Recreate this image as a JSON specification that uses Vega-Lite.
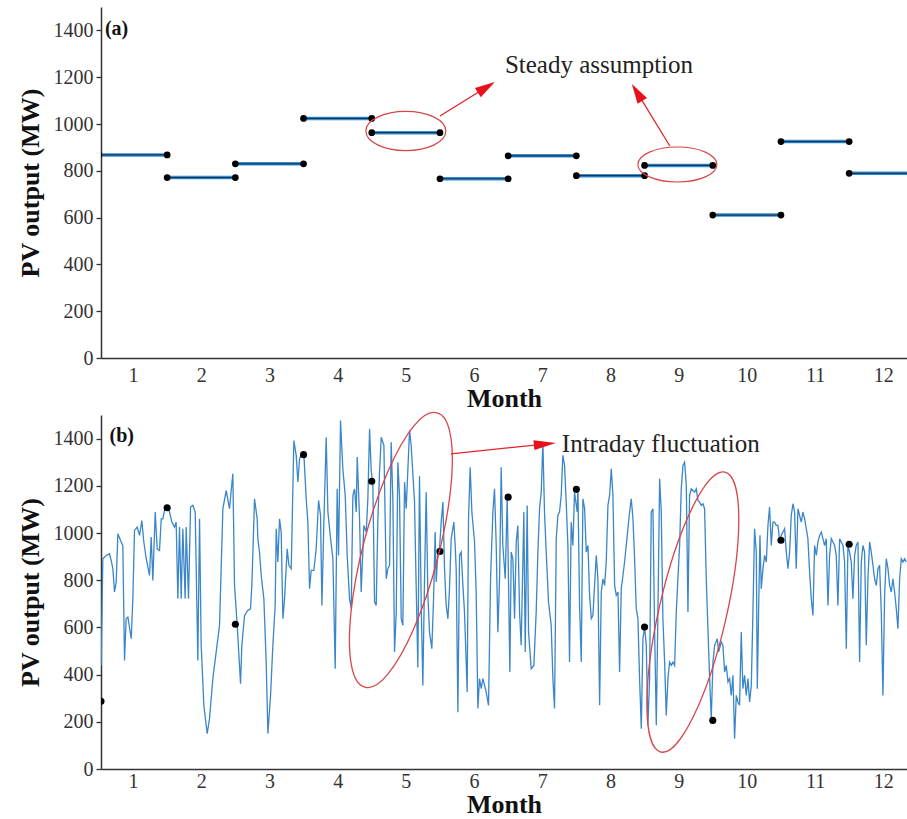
{
 "$schema": "https://vega.github.io/schema/vega-lite/v6.json",
 "padding": {"left": 17, "top": 7, "right": 0, "bottom": 0},
 "spacing": -2,
 "config": {
  "font": "Liberation Serif",
  "view": {"stroke": null},
  "axis": {"grid": false, "labelFont": "Liberation Serif", "titleFont": "Liberation Serif", "labelFontSize": 20, "labelColor": "#333", "domainColor": "#333", "domainWidth": 1.5, "tickColor": "#333", "tickWidth": 1.3, "titleFontSize": 26, "titleFontWeight": "bold", "titleColor": "#111"}
 },
 "vconcat": [
  {
   "width": 806, "height": 351,
   "encoding": {
    "x": {"field": "x", "type": "quantitative", "scale": {"domain": [0.53, 12.348], "nice": false, "zero": false}, "axis": {"values": [1,2,3,4,5,6,7,8,9,10,11,12], "ticks": false, "labelPadding": 7, "title": "Month", "titlePadding": 0, "labelFlush": false}},
    "y": {"field": "y", "type": "quantitative", "scale": {"domain": [0, 1500], "nice": false}, "axis": {"values": [0,200,400,600,800,1000,1200,1400], "format": "d", "tickSize": 5, "labelPadding": 3, "title": "PV output (MW)", "titlePadding": 10}}
   },
   "layer": [
    {"data": {"values": [{"x":0.5,"x2":1.5,"y":868},{"x":1.5,"x2":2.5,"y":771},{"x":2.5,"x2":3.5,"y":830},{"x":3.5,"x2":4.5,"y":1024},{"x":4.5,"x2":5.5,"y":963},{"x":5.5,"x2":6.5,"y":766},{"x":6.5,"x2":7.5,"y":864},{"x":7.5,"x2":8.5,"y":779},{"x":8.5,"x2":9.5,"y":823},{"x":9.5,"x2":10.5,"y":611},{"x":10.5,"x2":11.5,"y":925},{"x":11.5,"x2":12.5,"y":789}]},
     "mark": {"type": "rule", "color": "#2f8fd8", "strokeWidth": 3.5, "clip": true},
     "encoding": {"x2": {"field": "x2"}}},
    {"data": {"values": [{"x":0.5,"x2":1.5,"y":868},{"x":1.5,"x2":2.5,"y":771},{"x":2.5,"x2":3.5,"y":830},{"x":3.5,"x2":4.5,"y":1024},{"x":4.5,"x2":5.5,"y":963},{"x":5.5,"x2":6.5,"y":766},{"x":6.5,"x2":7.5,"y":864},{"x":7.5,"x2":8.5,"y":779},{"x":8.5,"x2":9.5,"y":823},{"x":9.5,"x2":10.5,"y":611},{"x":10.5,"x2":11.5,"y":925},{"x":11.5,"x2":12.5,"y":789}]},
     "mark": {"type": "rule", "color": "#1c3550", "strokeWidth": 1.2, "clip": true},
     "encoding": {"x2": {"field": "x2"}}},
    {"data": {"values": [{"x":0.5,"y":868},{"x":1.5,"y":868},{"x":1.5,"y":771},{"x":2.5,"y":771},{"x":2.5,"y":830},{"x":3.5,"y":830},{"x":3.5,"y":1024},{"x":4.5,"y":1024},{"x":4.5,"y":963},{"x":5.5,"y":963},{"x":5.5,"y":766},{"x":6.5,"y":766},{"x":6.5,"y":864},{"x":7.5,"y":864},{"x":7.5,"y":779},{"x":8.5,"y":779},{"x":8.5,"y":823},{"x":9.5,"y":823},{"x":9.5,"y":611},{"x":10.5,"y":611},{"x":10.5,"y":925},{"x":11.5,"y":925},{"x":11.5,"y":789},{"x":12.5,"y":789}]},
     "mark": {"type": "point", "filled": true, "color": "#000", "size": 45, "opacity": 1, "clip": true}},
    {"data": {"values": [{"x":1.5},{"x":2.5},{"x":3.5},{"x":4.5},{"x":5.5},{"x":6.5},{"x":7.5},{"x":8.5},{"x":9.5},{"x":10.5},{"x":11.5}]},
     "mark": {"type": "rule", "color": "#333", "strokeWidth": 1.3},
     "encoding": {"y": {"datum": 0}, "y2": {"datum": 22}}},
    {"data": {"values": [{}]},
     "mark": {"type": "rule", "color": "#555", "strokeWidth": 1.5},
     "encoding": {"x": {"datum": 0.53}, "x2": {"datum": 12.348}, "y": {"datum": 1500}}},
    {"data": {"values": [{"x":5.0,"y":970}]},
     "mark": {"type": "point", "shape": "M-1,0A1,0.49,0,1,1,1,0A1,0.49,0,1,1,-1,0Z", "size": 6400, "filled": false, "stroke": "#d9464a", "strokeWidth": 1.2, "opacity": 1}},
    {"data": {"values": [{"x":8.981,"y":827}]},
     "mark": {"type": "point", "shape": "M-1,0A1,0.443,0,1,1,1,0A1,0.443,0,1,1,-1,0Z", "size": 6241, "filled": false, "stroke": "#d9464a", "strokeWidth": 1.2, "opacity": 1}},
    {"data": {"values": [{"x":5.5,"y":1034,"x2":6.18,"y2":1157},{"x":8.871,"y":906,"x2":8.39,"y2":1135}]},
     "mark": {"type": "rule", "color": "#e0262b", "strokeWidth": 1.3},
     "encoding": {"x2": {"field": "x2"}, "y2": {"field": "y2"}}},
    {"data": {"values": [{"x":6.18,"y":1157}]},
     "mark": {"type": "point", "shape": "M0,-1L0.55,1L-0.55,1Z", "size": 400, "angle": 58, "filled": true, "color": "#e8101a", "opacity": 1}},
    {"data": {"values": [{"x":8.39,"y":1135}]},
     "mark": {"type": "point", "shape": "M0,-1L0.55,1L-0.55,1Z", "size": 400, "angle": 328.5, "filled": true, "color": "#e8101a", "opacity": 1}},
    {"data": {"values": [{"x":6.452,"y":1252,"label":"Steady assumption"}]},
     "mark": {"type": "text", "align": "left", "baseline": "middle", "fontSize": 25, "font": "Liberation Serif", "color": "#222"},
     "encoding": {"text": {"field": "label"}}},
    {"data": {"values": [{"x":0.587,"y":1406,"label":"(a)"}]},
     "mark": {"type": "text", "align": "left", "baseline": "middle", "fontSize": 20, "fontWeight": "bold", "font": "Liberation Serif", "color": "#111"},
     "encoding": {"text": {"field": "label"}}}
   ]
  },
  {
   "width": 806, "height": 354,
   "encoding": {
    "x": {"field": "x", "type": "quantitative", "scale": {"domain": [0.53, 12.348], "nice": false, "zero": false}, "axis": {"values": [1,2,3,4,5,6,7,8,9,10,11,12], "ticks": false, "labelPadding": 2, "title": "Month", "titlePadding": 0, "labelFlush": false}},
    "y": {"field": "y", "type": "quantitative", "scale": {"domain": [0, 1500], "nice": false}, "axis": {"values": [0,200,400,600,800,1000,1200,1400], "format": "d", "tickSize": 5, "labelPadding": 3, "title": "PV output (MW)", "titlePadding": 10}}
   },
   "layer": [
    {"data": {"values": [
{"x":0.533,"y":439},{"x":0.557,"y":891},{"x":0.606,"y":905},{"x":0.655,"y":912},{"x":0.679,"y":884},{"x":0.704,"y":849},{"x":0.728,"y":750},{"x":0.753,"y":792},{"x":0.777,"y":997},{"x":0.826,"y":962},{"x":0.85,"y":947},{"x":0.875,"y":460},{"x":0.899,"y":637},{"x":0.924,"y":644},{"x":0.973,"y":552},{"x":0.997,"y":721},{"x":1.021,"y":1011},{"x":1.061,"y":1025},{"x":1.095,"y":990},{"x":1.129,"y":1053},{"x":1.158,"y":962},{"x":1.193,"y":891},{"x":1.241,"y":820},{"x":1.266,"y":983},{"x":1.29,"y":799},{"x":1.325,"y":1089},{"x":1.354,"y":933},{"x":1.388,"y":926},{"x":1.413,"y":1060},{"x":1.437,"y":1060},{"x":1.461,"y":1096},{"x":1.5,"y":1107},{"x":1.535,"y":1089},{"x":1.569,"y":1046},{"x":1.608,"y":1025},{"x":1.632,"y":1046},{"x":1.657,"y":721},{"x":1.681,"y":1025},{"x":1.706,"y":721},{"x":1.73,"y":1018},{"x":1.764,"y":721},{"x":1.779,"y":1025},{"x":1.813,"y":721},{"x":1.843,"y":1110},{"x":1.877,"y":1117},{"x":1.911,"y":1089},{"x":1.95,"y":460},{"x":1.975,"y":1060},{"x":1.999,"y":524},{"x":2.038,"y":270},{"x":2.087,"y":150},{"x":2.121,"y":213},{"x":2.17,"y":383},{"x":2.219,"y":496},{"x":2.268,"y":609},{"x":2.317,"y":1103},{"x":2.366,"y":1180},{"x":2.414,"y":1103},{"x":2.463,"y":1251},{"x":2.488,"y":778},{"x":2.527,"y":609},{"x":2.576,"y":361},{"x":2.595,"y":524},{"x":2.635,"y":651},{"x":2.683,"y":672},{"x":2.722,"y":679},{"x":2.742,"y":778},{"x":2.781,"y":1145},{"x":2.82,"y":1060},
{"x":2.83,"y":976},{"x":2.854,"y":919},{"x":2.879,"y":820},{"x":2.918,"y":721},{"x":2.952,"y":453},{"x":2.977,"y":150},{"x":3.016,"y":312},{"x":3.05,"y":524},{"x":3.084,"y":693},{"x":3.099,"y":1018},{"x":3.123,"y":877},{"x":3.148,"y":1060},{"x":3.172,"y":1004},{"x":3.197,"y":637},{"x":3.221,"y":721},{"x":3.26,"y":933},{"x":3.285,"y":863},{"x":3.319,"y":849},{"x":3.358,"y":1392},{"x":3.392,"y":1329},{"x":3.417,"y":1216},{"x":3.441,"y":1315},{"x":3.465,"y":1329},{"x":3.505,"y":1332},{"x":3.539,"y":1145},{"x":3.563,"y":1046},{"x":3.588,"y":764},{"x":3.612,"y":842},{"x":3.651,"y":842},{"x":3.685,"y":933},{"x":3.72,"y":1138},{"x":3.749,"y":1075},{"x":3.769,"y":693},{"x":3.798,"y":1046},{"x":3.832,"y":1406},{"x":3.857,"y":1089},{"x":3.896,"y":976},{"x":3.93,"y":891},{"x":3.964,"y":425},{"x":3.993,"y":1187},{"x":4.013,"y":905},{"x":4.042,"y":1477},{"x":4.076,"y":1272},{"x":4.111,"y":1159},{"x":4.14,"y":905},{"x":4.174,"y":721},{"x":4.199,"y":679},{"x":4.223,"y":1159},{"x":4.248,"y":1187},{"x":4.272,"y":1089},{"x":4.287,"y":1322},{"x":4.321,"y":1060},{"x":4.345,"y":750},{"x":4.384,"y":1032},{"x":4.419,"y":1004},{"x":4.443,"y":1145},{"x":4.468,"y":1442},{"x":4.492,"y":1265},{"x":4.516,"y":1209},{"x":4.541,"y":707},{"x":4.565,"y":693},{"x":4.59,"y":1060},{"x":4.614,"y":1258},{"x":4.639,"y":1406},{"x":4.678,"y":1371},{"x":4.712,"y":806},{"x":4.736,"y":849},{"x":4.761,"y":863},{"x":4.785,"y":1385},{"x":4.81,"y":1131},{"x":4.834,"y":496},{"x":4.859,"y":665},{"x":4.883,"y":1300},{"x":4.907,"y":1159},{"x":4.932,"y":637},{"x":4.956,"y":609},{"x":4.981,"y":1216},{"x":5.005,"y":1103},{"x":5.054,"y":1435},{"x":5.078,"y":1371},{"x":5.127,"y":1131},{"x":5.152,"y":764},{"x":5.176,"y":430},{"x":5.2,"y":1240},{"x":5.225,"y":700},{"x":5.249,"y":354},
{"x":5.274,"y":806},{"x":5.298,"y":1173},{"x":5.323,"y":736},{"x":5.347,"y":580},{"x":5.381,"y":510},{"x":5.406,"y":721},{"x":5.43,"y":1004},{"x":5.445,"y":792},{"x":5.469,"y":919},{"x":5.494,"y":933},{"x":5.518,"y":1046},{"x":5.543,"y":1131},{"x":5.567,"y":849},{"x":5.591,"y":693},{"x":5.616,"y":637},{"x":5.64,"y":764},{"x":5.665,"y":976},{"x":5.704,"y":1046},{"x":5.723,"y":947},{"x":5.738,"y":849},{"x":5.763,"y":241},{"x":5.787,"y":905},{"x":5.811,"y":919},{"x":5.836,"y":778},{"x":5.86,"y":665},{"x":5.899,"y":326},{"x":5.919,"y":1060},{"x":5.943,"y":1279},{"x":5.968,"y":1089},{"x":6.007,"y":962},{"x":6.031,"y":750},{"x":6.056,"y":256},{"x":6.08,"y":383},{"x":6.105,"y":340},{"x":6.129,"y":383},{"x":6.154,"y":354},{"x":6.178,"y":326},{"x":6.212,"y":270},{"x":6.242,"y":806},{"x":6.276,"y":1089},{"x":6.3,"y":1187},{"x":6.325,"y":947},{"x":6.349,"y":580},{"x":6.374,"y":806},{"x":6.398,"y":1279},{"x":6.422,"y":947},{"x":6.457,"y":806},{"x":6.486,"y":1152},{"x":6.506,"y":778},{"x":6.525,"y":411},{"x":6.545,"y":919},{"x":6.569,"y":891},{"x":6.594,"y":637},{"x":6.618,"y":962},{"x":6.642,"y":1032},{"x":6.667,"y":665},{"x":6.691,"y":524},{"x":6.73,"y":1089},{"x":6.75,"y":496},{"x":6.779,"y":1117},{"x":6.799,"y":580},{"x":6.838,"y":425},{"x":6.877,"y":439},{"x":6.911,"y":665},{"x":6.936,"y":919},{"x":6.96,"y":1103},{"x":6.985,"y":1173},{"x":7.009,"y":1385},{"x":7.033,"y":1089},{"x":7.058,"y":919},{"x":7.092,"y":707},{"x":7.131,"y":609},{"x":7.156,"y":383},{"x":7.18,"y":256},{"x":7.205,"y":976},{"x":7.229,"y":1075},{"x":7.253,"y":1089},{"x":7.278,"y":1159},{"x":7.302,"y":1329},{"x":7.327,"y":1286},{"x":7.351,"y":1131},{"x":7.376,"y":947},{"x":7.4,"y":453},{"x":7.424,"y":1046},{"x":7.449,"y":947},{"x":7.473,"y":1173},{"x":7.512,"y":1089},
{"x":7.523,"y":1187},{"x":7.547,"y":693},{"x":7.572,"y":453},{"x":7.596,"y":1145},{"x":7.621,"y":1103},{"x":7.645,"y":919},{"x":7.67,"y":947},{"x":7.694,"y":736},{"x":7.719,"y":637},{"x":7.743,"y":651},{"x":7.767,"y":778},{"x":7.792,"y":905},{"x":7.816,"y":806},{"x":7.841,"y":270},{"x":7.865,"y":750},{"x":7.89,"y":806},{"x":7.914,"y":778},{"x":7.938,"y":877},{"x":7.963,"y":1117},{"x":7.987,"y":1159},{"x":8.012,"y":1272},{"x":8.036,"y":1159},{"x":8.061,"y":778},{"x":8.085,"y":736},{"x":8.11,"y":750},{"x":8.134,"y":411},{"x":8.158,"y":764},{"x":8.183,"y":820},{"x":8.207,"y":877},{"x":8.246,"y":990},{"x":8.281,"y":1089},{"x":8.305,"y":1145},{"x":8.33,"y":1060},{"x":8.354,"y":891},{"x":8.378,"y":679},{"x":8.403,"y":637},{"x":8.427,"y":383},{"x":8.452,"y":171},{"x":8.476,"y":552},{"x":8.501,"y":602},{"x":8.525,"y":524},{"x":8.549,"y":185},{"x":8.574,"y":383},{"x":8.598,"y":1089},{"x":8.623,"y":1103},{"x":8.647,"y":594},{"x":8.672,"y":185},{"x":8.696,"y":665},{"x":8.721,"y":1230},{"x":8.745,"y":1089},{"x":8.769,"y":637},{"x":8.794,"y":453},{"x":8.818,"y":227},{"x":8.843,"y":383},{"x":8.867,"y":453},{"x":8.892,"y":439},{"x":8.916,"y":453},{"x":8.941,"y":439},{"x":8.965,"y":665},{"x":8.989,"y":806},{"x":9.014,"y":947},{"x":9.038,"y":1187},{"x":9.063,"y":1286},{"x":9.087,"y":1300},{"x":9.112,"y":1202},{"x":9.136,"y":665},{"x":9.16,"y":1159},{"x":9.185,"y":1187},{"x":9.234,"y":1173},{"x":9.258,"y":1187},{"x":9.283,"y":1138},{"x":9.307,"y":1131},{"x":9.332,"y":1117},{"x":9.356,"y":1124},{"x":9.38,"y":1103},{"x":9.405,"y":806},{"x":9.429,"y":594},{"x":9.454,"y":383},{"x":9.478,"y":213},{"x":9.503,"y":453},{"x":9.527,"y":524},{"x":9.566,"y":552},{"x":9.586,"y":496},{"x":9.625,"y":538},{"x":9.649,"y":524},{"x":9.674,"y":411},{"x":9.698,"y":439},{"x":9.723,"y":369},{"x":9.747,"y":383},{"x":9.771,"y":312},{"x":9.796,"y":397},{"x":9.82,"y":128},{"x":9.845,"y":312},
{"x":9.869,"y":284},{"x":9.893,"y":270},{"x":9.918,"y":580},{"x":9.942,"y":340},{"x":9.967,"y":397},{"x":9.991,"y":312},{"x":10.016,"y":383},{"x":10.04,"y":284},{"x":10.065,"y":354},{"x":10.089,"y":665},{"x":10.113,"y":1018},{"x":10.138,"y":919},{"x":10.153,"y":340},{"x":10.172,"y":665},{"x":10.192,"y":990},{"x":10.211,"y":764},{"x":10.236,"y":849},{"x":10.26,"y":905},{"x":10.285,"y":877},{"x":10.309,"y":1032},{"x":10.333,"y":1110},{"x":10.358,"y":947},{"x":10.382,"y":1046},{"x":10.407,"y":1046},{"x":10.431,"y":1032},{"x":10.456,"y":1032},{"x":10.48,"y":969},{"x":10.504,"y":990},{"x":10.529,"y":1004},{"x":10.553,"y":1018},{"x":10.578,"y":919},{"x":10.602,"y":849},{"x":10.627,"y":919},{"x":10.651,"y":1075},{"x":10.676,"y":1124},{"x":10.7,"y":1089},{"x":10.724,"y":849},{"x":10.749,"y":1103},{"x":10.773,"y":1075},{"x":10.798,"y":1046},{"x":10.822,"y":1089},{"x":10.847,"y":1060},{"x":10.871,"y":1018},{"x":10.895,"y":976},{"x":10.92,"y":834},{"x":10.944,"y":721},{"x":10.969,"y":651},{"x":10.993,"y":947},{"x":11.018,"y":905},{"x":11.042,"y":962},{"x":11.067,"y":990},{"x":11.091,"y":1004},{"x":11.115,"y":976},{"x":11.14,"y":947},{"x":11.164,"y":976},{"x":11.189,"y":693},{"x":11.213,"y":905},{"x":11.238,"y":976},{"x":11.262,"y":962},{"x":11.287,"y":947},{"x":11.311,"y":905},{"x":11.335,"y":693},{"x":11.36,"y":976},{"x":11.384,"y":962},{"x":11.409,"y":947},{"x":11.433,"y":877},{"x":11.458,"y":510},{"x":11.482,"y":947},{"x":11.506,"y":919},{"x":11.531,"y":877},{"x":11.555,"y":721},{"x":11.58,"y":905},{"x":11.604,"y":947},{"x":11.629,"y":962},{"x":11.653,"y":453},{"x":11.678,"y":877},{"x":11.702,"y":947},{"x":11.726,"y":919},{"x":11.751,"y":524},{"x":11.775,"y":806},{"x":11.8,"y":962},{"x":11.824,"y":919},{"x":11.849,"y":863},{"x":11.873,"y":806},{"x":11.898,"y":778},{"x":11.922,"y":849},{"x":11.946,"y":863},{"x":11.971,"y":665},{"x":11.995,"y":312},{"x":12.02,"y":736},{"x":12.044,"y":891},{"x":12.069,"y":849},{"x":12.093,"y":778},{"x":12.117,"y":750},{"x":12.142,"y":806},{"x":12.166,"y":750},{"x":12.191,"y":679},{"x":12.215,"y":594},{"x":12.24,"y":806},{"x":12.264,"y":891},{"x":12.288,"y":877},{"x":12.313,"y":891},{"x":12.337,"y":877}
    ]},
     "mark": {"type": "line", "color": "#3a86c8", "strokeWidth": 1.3, "clip": true}},
    {"data": {"values": [{"x":0.53,"y":287},{"x":1.5,"y":1107},{"x":2.5,"y":613},{"x":3.5,"y":1332},{"x":4.5,"y":1219},{"x":5.5,"y":922},{"x":6.5,"y":1152},{"x":7.5,"y":1185},{"x":8.5,"y":602},{"x":9.5,"y":206},{"x":10.5,"y":969},{"x":11.5,"y":952}]},
     "mark": {"type": "point", "filled": true, "color": "#000", "size": 50, "opacity": 1, "clip": true}},
    {"data": {"values": [{"x":1.5},{"x":2.5},{"x":3.5},{"x":4.5},{"x":5.5},{"x":6.5},{"x":7.5},{"x":8.5},{"x":9.5},{"x":10.5},{"x":11.5}]},
     "mark": {"type": "rule", "color": "#333", "strokeWidth": 1.3},
     "encoding": {"y": {"datum": 0}, "y2": {"datum": 22}}},
    {"data": {"values": [{}]},
     "mark": {"type": "rule", "color": "#555", "strokeWidth": 1.5},
     "encoding": {"x": {"datum": 0.53}, "x2": {"datum": 12.348}, "y": {"datum": 1500}}},
    {"data": {"values": [{"x":4.927,"y":928}]},
     "mark": {"type": "point", "shape": "M0.254,-0.967A0.261,1,14.7,1,1,-0.254,0.967A0.261,1,14.7,1,1,0.254,-0.967Z", "size": 80316, "filled": false, "stroke": "#d9464a", "strokeWidth": 1.3, "opacity": 1}},
    {"data": {"values": [{"x":9.208,"y":665}]},
     "mark": {"type": "point", "shape": "M0.223,-0.975A0.235,1,12.9,1,1,-0.223,0.975A0.235,1,12.9,1,1,0.223,-0.975Z", "size": 82484, "filled": false, "stroke": "#d9464a", "strokeWidth": 1.3, "opacity": 1}},
    {"data": {"values": [{"x":5.66,"y":1335,"x2":7.038,"y2":1377}]},
     "mark": {"type": "rule", "color": "#e0262b", "strokeWidth": 1.3},
     "encoding": {"x2": {"field": "x2"}, "y2": {"field": "y2"}}},
    {"data": {"values": [{"x":7.038,"y":1377}]},
     "mark": {"type": "point", "shape": "M0,-1L0.45,1L-0.45,1Z", "size": 484, "angle": 84, "filled": true, "color": "#e8101a", "opacity": 1}},
    {"data": {"values": [{"x":7.287,"y":1377,"label":"Intraday fluctuation"}]},
     "mark": {"type": "text", "align": "left", "baseline": "middle", "fontSize": 25, "font": "Liberation Serif", "color": "#222"},
     "encoding": {"text": {"field": "label"}}},
    {"data": {"values": [{"x":0.655,"y":1413,"label":"(b)"}]},
     "mark": {"type": "text", "align": "left", "baseline": "middle", "fontSize": 20, "fontWeight": "bold", "font": "Liberation Serif", "color": "#111"},
     "encoding": {"text": {"field": "label"}}}
   ]
  }
 ]
}
